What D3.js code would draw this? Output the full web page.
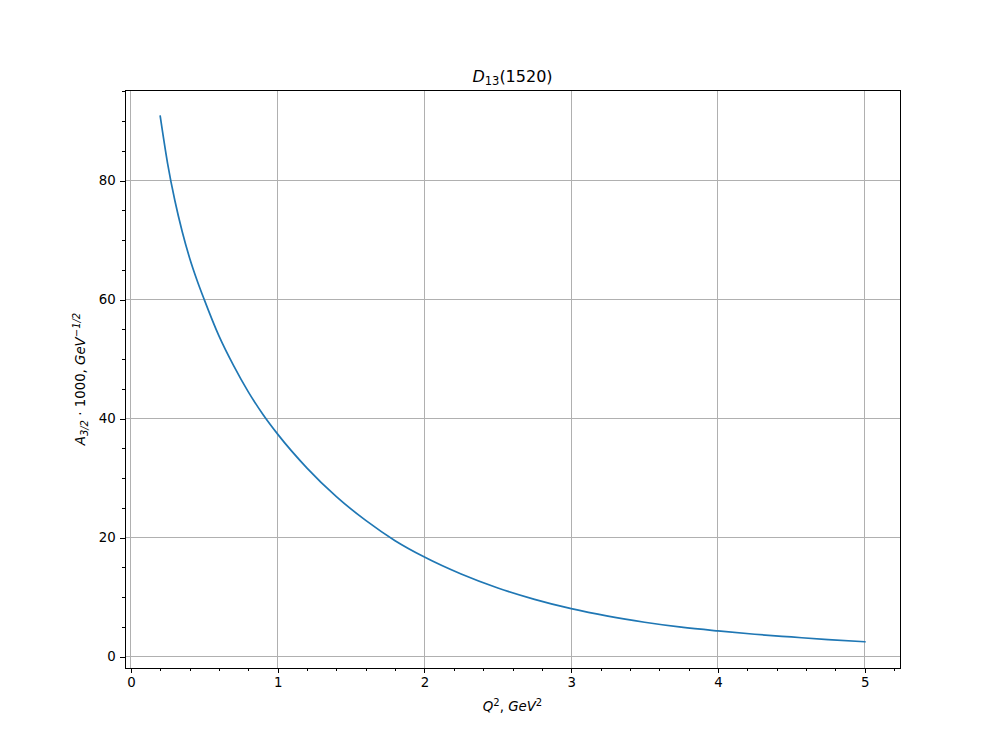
<!DOCTYPE html>
<html><head><meta charset="utf-8">
<script src="https://cdn.jsdelivr.net/npm/d3@7"></script>
<style>
body{margin:0;background:#fff;}
svg{font-family:"DejaVu Sans",sans-serif;}
</style></head>
<body><svg id="c" width="1000" height="750"></svg>
<script>
const q2 = [0.2,0.25,0.3,0.35,0.4,0.45,0.5,0.6,0.7,0.8,0.9,1.0,1.2,1.4,1.6,1.8,2.0,2.25,2.5,2.75,3.0,3.25,3.5,3.75,4.0,4.25,4.5,4.75,5.0];
const a32 = [90.8,82.9,76.6,71.4,67.0,63.3,60.0,53.9,48.9,44.5,40.7,37.4,31.7,26.9,22.9,19.5,16.75,13.9,11.55,9.64,8.07,6.81,5.79,4.96,4.33,3.78,3.32,2.88,2.52];
const xTicks = [0,1,2,3,4,5];
const yTicks = [0,20,40,60,80];

const L=125,R=900,T=90,B=668;
const svg=d3.select("#c");
const xMin=d3.min(q2),xMax=d3.max(q2),yMin=d3.min(a32),yMax=d3.max(a32);
const xs=d3.scaleLinear().domain([xMin-0.05*(xMax-xMin),xMax+0.05*(xMax-xMin)]).range([L,R]);
const ys=d3.scaleLinear().domain([yMin-0.05*(yMax-yMin),yMax+0.05*(yMax-yMin)]).range([B,T]);

const xMinor=d3.range(0,5.21,0.2).filter(v=>v>=xs.domain()[0]&&v<=xs.domain()[1]&&Math.abs(v-Math.round(v))>1e-6);
const yMinor=d3.range(0,96,5).filter(v=>v<=ys.domain()[1]&&v%20!==0);

// grid
const g=svg.append("g").attr("shape-rendering","crispEdges");
g.selectAll(".gx").data(xTicks).enter().append("line")
 .attr("x1",d=>xs(d)).attr("x2",d=>xs(d)).attr("y1",T).attr("y2",B)
 .attr("stroke","#b0b0b0").attr("stroke-width",1);
g.selectAll(".gy").data(yTicks).enter().append("line")
 .attr("y1",d=>ys(d)).attr("y2",d=>ys(d)).attr("x1",L).attr("x2",R)
 .attr("stroke","#b0b0b0").attr("stroke-width",1);

// line
const line=d3.line().x((d,i)=>xs(q2[i])).y(d=>ys(d)).curve(d3.curveMonotoneX);
svg.append("path").datum(a32).attr("d",line).attr("fill","none")
 .attr("stroke","#1f77b4").attr("stroke-width",1.7).attr("stroke-linecap","square");

// axes
const xAxis=svg.append("g").attr("transform",`translate(0,${B})`)
 .call(d3.axisBottom(xs).tickValues(xTicks).tickSize(4.67).tickPadding(4.67).tickFormat(d3.format("d")));
const xAxisMinor=svg.append("g").attr("transform",`translate(0,${B})`)
 .call(d3.axisBottom(xs).tickValues(xMinor).tickSize(2.67).tickFormat(""));
const yAxis=svg.append("g").attr("transform",`translate(${L},0)`)
 .call(d3.axisLeft(ys).tickValues(yTicks).tickSize(4.67).tickPadding(4.67).tickFormat(d3.format("d")));
const yAxisMinor=svg.append("g").attr("transform",`translate(${L},0)`)
 .call(d3.axisLeft(ys).tickValues(yMinor).tickSize(2.67).tickFormat(""));
[xAxis,xAxisMinor,yAxis,yAxisMinor].forEach(a=>{
  a.select(".domain").remove();
  a.selectAll("line").attr("stroke","#000").attr("stroke-width",1).attr("shape-rendering","crispEdges");
  a.selectAll("text").attr("font-size","13.33px").attr("fill","#000").attr("font-family","DejaVu Sans");
});
// frame
svg.append("rect").attr("x",L).attr("y",T).attr("width",R-L).attr("height",B-T)
 .attr("fill","none").attr("stroke","#000").attr("stroke-width",1).attr("shape-rendering","crispEdges");

// title
const t=svg.append("text").attr("x",(L+R)/2).attr("y",82).attr("text-anchor","middle")
 .attr("font-size","16px").attr("fill","#000");
t.append("tspan").attr("font-style","italic").text("D");
t.append("tspan").attr("font-size","11.5px").attr("dy","2.5").text("13");
t.append("tspan").attr("dy","-2.5").text("(1520)");

// x label
const xl=svg.append("text").attr("x",(L+R)/2).attr("y",711).attr("text-anchor","middle")
 .attr("font-size","13.33px").attr("fill","#000");
xl.append("tspan").attr("font-style","italic").text("Q");
xl.append("tspan").attr("font-size","10px").attr("dy","-5").text("2");
xl.append("tspan").attr("dy","5").text(", ");
xl.append("tspan").attr("font-style","italic").text("GeV");
xl.append("tspan").attr("font-size","10px").attr("dy","-5").text("2");

// y label
const yl=svg.append("text").attr("transform",`translate(85,${(T+B)/2}) rotate(-90)`)
 .attr("text-anchor","middle").attr("font-size","13.33px").attr("fill","#000");
yl.append("tspan").attr("font-style","italic").text("A");
yl.append("tspan").attr("font-size","10px").attr("dy","3").attr("font-style","italic").text("3/2");
yl.append("tspan").attr("dy","-3").text(" · 1000, ");
yl.append("tspan").attr("font-style","italic").text("GeV");
yl.append("tspan").attr("font-size","10px").attr("dy","-5").attr("font-style","italic").text("−1/2");
</script></body></html>
